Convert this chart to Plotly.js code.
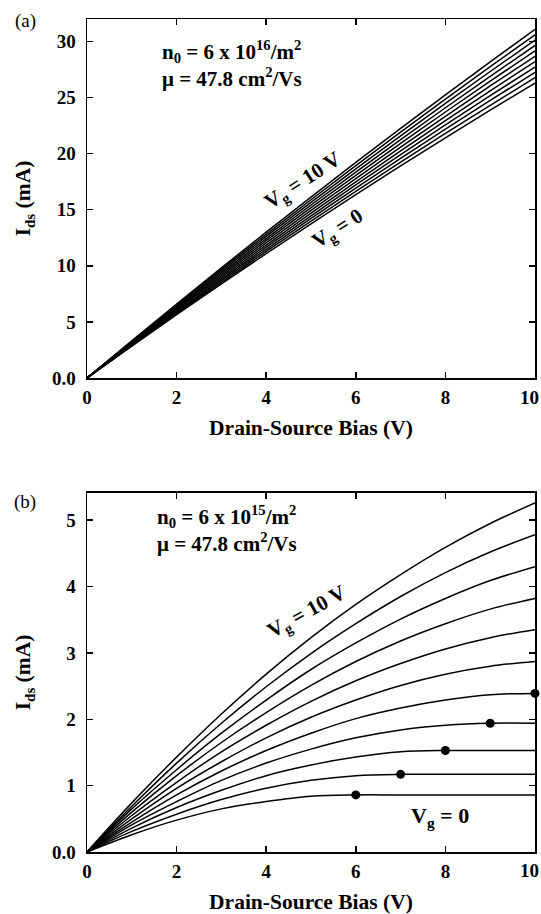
<!DOCTYPE html>
<html>
<head>
<meta charset="utf-8">
<script src="https://cdn.plot.ly/plotly-3.0.1.min.js"></script>
<style>html,body{margin:0;padding:0;background:#fff;}#chart{width:541px;height:914px;}</style>
</head>
<body>
<div id="chart"></div>
<script>
// Drain-source bias (V)
const vds = [0, 1, 2, 3, 4, 5, 6, 7, 8, 9, 10];

// Panel (a): n0 = 6e16 /m^2, Ids (mA) for Vg = 0 ... 10 V
const aVg0  = [0, 2.84, 5.64, 8.39, 11.09, 13.74, 16.35, 18.90, 21.41, 23.88, 26.29];
const aVg1  = [0, 2.89, 5.74, 8.53, 11.28, 13.98, 16.63, 19.24, 21.80, 24.31, 26.77];
const aVg2  = [0, 2.94, 5.83, 8.68, 11.47, 14.22, 16.92, 19.57, 22.18, 24.74, 27.25];
const aVg3  = [0, 2.99, 5.93, 8.82, 11.66, 14.46, 17.21, 19.91, 22.56, 25.17, 27.72];
const aVg4  = [0, 3.04, 6.02, 8.96, 11.85, 14.70, 17.49, 20.24, 22.94, 25.60, 28.20];
const aVg5  = [0, 3.08, 6.12, 9.11, 12.05, 14.94, 17.78, 20.58, 23.33, 26.03, 28.68];
const aVg6  = [0, 3.13, 6.21, 9.25, 12.24, 15.18, 18.07, 20.91, 23.71, 26.46, 29.16];
const aVg7  = [0, 3.18, 6.31, 9.39, 12.43, 15.42, 18.36, 21.25, 24.09, 26.89, 29.64];
const aVg8  = [0, 3.23, 6.41, 9.54, 12.62, 15.65, 18.64, 21.58, 24.47, 27.32, 30.11];
const aVg9  = [0, 3.27, 6.50, 9.68, 12.81, 15.89, 18.93, 21.92, 24.86, 27.75, 30.59];
const aVg10 = [0, 3.32, 6.60, 9.82, 13.00, 16.13, 19.22, 22.25, 25.24, 28.18, 31.07];

// Panel (b): n0 = 6e15 /m^2, Ids (mA) for Vg = 0 ... 10 V
const bVg0  = [0, 0.26, 0.48, 0.65, 0.76, 0.84, 0.86, 0.86, 0.86, 0.86, 0.86];
const bVg1  = [0, 0.31, 0.57, 0.79, 0.96, 1.08, 1.15, 1.17, 1.17, 1.17, 1.17];
const bVg2  = [0, 0.36, 0.67, 0.93, 1.15, 1.31, 1.43, 1.51, 1.53, 1.53, 1.53];
const bVg3  = [0, 0.41, 0.76, 1.08, 1.34, 1.55, 1.72, 1.84, 1.91, 1.94, 1.94];
const bVg4  = [0, 0.45, 0.86, 1.22, 1.53, 1.79, 2.01, 2.17, 2.29, 2.37, 2.39];
const bVg5  = [0, 0.50, 0.96, 1.36, 1.72, 2.03, 2.29, 2.51, 2.68, 2.80, 2.87];
const bVg6  = [0, 0.55, 1.05, 1.51, 1.91, 2.27, 2.58, 2.84, 3.06, 3.23, 3.35];
const bVg7  = [0, 0.60, 1.15, 1.65, 2.10, 2.51, 2.87, 3.18, 3.44, 3.66, 3.82];
const bVg8  = [0, 0.65, 1.24, 1.79, 2.29, 2.75, 3.15, 3.51, 3.82, 4.09, 4.30];
const bVg9  = [0, 0.69, 1.34, 1.94, 2.49, 2.99, 3.44, 3.85, 4.21, 4.52, 4.78];
const bVg10 = [0, 0.74, 1.43, 2.08, 2.68, 3.23, 3.73, 4.18, 4.59, 4.95, 5.26];

// Saturation points marked in panel (b)
const satX = [6, 7, 8, 9, 10];
const satY = [0.86, 1.17, 1.53, 1.94, 2.39];

// Ticks (the last x label "10" sits flush with the figure edge, drawn as its own label)
const xTicks = [0, 2, 4, 6, 8, 10];
const xText = ['0', '2', '4', '6', '8', ''];
const xLastLabel = '10';
const aYTicks = [0, 5, 10, 15, 20, 25, 30];
const aYText = ['0.0', '5', '10', '15', '20', '25', '30'];
const bYTicks = [0, 1, 2, 3, 4, 5];
const bYText = ['0.0', '1', '2', '3', '4', '5'];

const FONT = '"Liberation Serif", serif';
const aSets = [aVg0, aVg1, aVg2, aVg3, aVg4, aVg5, aVg6, aVg7, aVg8, aVg9, aVg10];
const bSets = [bVg0, bVg1, bVg2, bVg3, bVg4, bVg5, bVg6, bVg7, bVg8, bVg9, bVg10];

const traces = [];
aSets.forEach(ys => traces.push({
  x: vds, y: ys, xaxis: 'x', yaxis: 'y', mode: 'lines',
  line: {color: '#000', width: 1.5, shape: 'spline', smoothing: 1}, hoverinfo: 'skip'
}));
bSets.forEach(ys => traces.push({
  x: vds, y: ys, xaxis: 'x2', yaxis: 'y2', mode: 'lines',
  line: {color: '#000', width: 1.5, shape: 'spline', smoothing: 1}, hoverinfo: 'skip'
}));
traces.push({
  x: satX, y: satY, xaxis: 'x2', yaxis: 'y2', mode: 'markers',
  marker: {color: '#000', size: 9}, cliponaxis: false, hoverinfo: 'skip'
});

const tickFont = {family: FONT, size: 19, color: '#000', weight: 'bold'};
const titleFont = {family: FONT, size: 21.5, color: '#000', weight: 'bold'};

function xAxis(anchor) {
  return {
    anchor: anchor, domain: [0, 1], range: [0, 10],
    tickvals: xTicks, ticktext: xText, ticks: 'inside', ticklen: 6, tickwidth: 1.5, tickcolor: '#000',
    showline: true, linewidth: 1.5, linecolor: '#000', mirror: 'ticks',
    showgrid: false, zeroline: false, ticklabelstandoff: 2,
    tickfont: tickFont,
    title: {text: 'Drain-Source Bias (V)', font: titleFont, standoff: 12}
  };
}
function yAxis(anchor, domain, range, tv, tt) {
  return {
    anchor: anchor, domain: domain, range: range,
    tickvals: tv, ticktext: tt, ticks: 'inside', ticklen: 6, tickwidth: 1.5, tickcolor: '#000',
    showline: true, linewidth: 1.5, linecolor: '#000', mirror: 'ticks',
    showgrid: false, zeroline: false, ticklabeloverflow: 'allow', ticklabelstandoff: 6,
    tickfont: tickFont,
    title: {text: 'I<sub>ds</sub> (mA)', font: titleFont, standoff: 15}
  };
}

const tf = {family: FONT, size: 21, color: '#000', weight: 'bold'};
const rf = {family: FONT, size: 21, color: '#000', weight: 'bold'};
const vf = {family: FONT, size: 22, color: '#000', weight: 'bold'};
const lf = {family: FONT, size: 19, color: '#000'};
const annotations = [
  {xref: 'paper', yref: 'paper', x: -0.138, y: 0.9976, text: '(a)', showarrow: false, xanchor: 'center', yanchor: 'middle', font: lf},
  {xref: 'paper', yref: 'paper', x: -0.138, y: 0.42, text: '(b)', showarrow: false, xanchor: 'center', yanchor: 'middle', font: lf},
  {xref: 'x', yref: 'y', x: 10, y: 0, text: xLastLabel, showarrow: false, xanchor: 'right', yanchor: 'middle', xshift: 6, yshift: -19, font: tickFont},
  {xref: 'x2', yref: 'y2', x: 10, y: 0, text: xLastLabel, showarrow: false, xanchor: 'right', yanchor: 'middle', xshift: 6, yshift: -19, font: tickFont},
  {xref: 'x', yref: 'y', x: 1.64, y: 28.03, align: 'left', text: 'n<sub>0</sub> = 6 x 10<sup>16</sup>/m<sup>2</sup><br>μ = 47.8 cm<sup>2</sup>/Vs', showarrow: false, xanchor: 'left', yanchor: 'middle', font: tf},
  {xref: 'x', yref: 'y', x: 4.82, y: 17.56, text: 'V<sub>g</sub> = 10 V', showarrow: false, textangle: -33, font: rf},
  {xref: 'x', yref: 'y', x: 5.60, y: 13.28, text: 'V<sub>g</sub> = 0', showarrow: false, textangle: -32, font: rf},
  {xref: 'x2', yref: 'y2', x: 1.52, y: 4.86, align: 'left', text: 'n<sub>0</sub> = 6 x 10<sup>15</sup>/m<sup>2</sup><br>μ = 47.8 cm<sup>2</sup>/Vs', showarrow: false, xanchor: 'left', yanchor: 'middle', font: tf},
  {xref: 'x2', yref: 'y2', x: 4.92, y: 3.61, text: 'V<sub>g</sub> = 10 V', showarrow: false, textangle: -29, font: rf},
  {xref: 'x2', yref: 'y2', x: 7.88, y: 0.53, text: 'V<sub>g</sub> = 0', showarrow: false, font: vf}
];

const layout = {
  width: 541, height: 914,
  margin: {l: 87, r: 6, t: 19, b: 62},
  paper_bgcolor: '#fff', plot_bgcolor: '#fff',
  showlegend: false,
  xaxis: xAxis('y'),
  yaxis: yAxis('x', [0.569, 1], [0, 32], aYTicks, aYText),
  xaxis2: xAxis('y2'),
  yaxis2: yAxis('x2', [0, 0.431], [0, 5.41], bYTicks, bYText),
  annotations: annotations
};

Plotly.newPlot('chart', traces, layout, {staticPlot: true, displayModeBar: false});
</script>
</body>
</html>
